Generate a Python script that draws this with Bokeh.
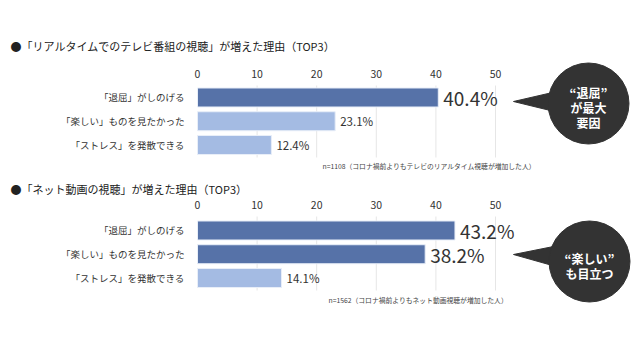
from bokeh.plotting import figure
from bokeh.models import Range1d, FixedTicker, ColumnDataSource, LinearAxis
from bokeh.core.properties import value
from bokeh.embed import file_html
from bokeh.resources import INLINE

# ---- data ----
categories = ["「退屈」がしのげる", "「楽しい」ものを見たかった", "「ストレス」を発散できる"]
tv_values = [40.4, 23.1, 12.4]
net_values = [43.2, 38.2, 14.1]
tick_values = [0, 10, 20, 30, 40, 50]
tv_title = "●「リアルタイムでのテレビ番組の視聴」が増えた理由（TOP3）"
net_title = "●「ネット動画の視聴」が増えた理由（TOP3）"
tv_note = "n=1108（コロナ禍前よりもテレビのリアルタイム視聴が増加した人）"
net_note = "n=1562（コロナ禍前よりもネット動画視聴が増加した人）"
tv_bubble = ["“退屈”", "が最大", "要因"]
net_bubble = ["“楽しい”", "も目立つ"]
tv_highlight = [True, False, False]
net_highlight = [True, True, False]

FONT = "Noto Sans CJK JP"
DARK = "#5672a8"
LIGHT = "#a4bbe3"
TXT = "#333333"
BUBBLE = "#333333"

W, H = 632, 352
X0_PX, X_PER_UNIT = 197.0, 5.96      # pixel of value 0, pixels per percent
Y_PX_UNIT, Y_OFF = 4.75, 0.42        # y layout unit (rows of 5 units per bar)


def xv(px):
    return (px - X0_PX) / X_PER_UNIT


def yv(px):
    return px / Y_PX_UNIT - Y_OFF


p = figure(width=W, height=H, output_backend="svg", toolbar_location=None,
           x_range=Range1d(xv(0), xv(W)), y_range=Range1d(yv(H), yv(0)),
           x_axis_type=None, y_axis_type=None,
           min_border_left=0, min_border_right=0, min_border_top=0, min_border_bottom=0)
p.outline_line_color = None
p.xgrid.visible = False
p.ygrid.visible = False


def make_chart(title, values, highlight, note, bubble, base_row,
               title_px, axis_px, grid_end_px, note_px, note_x_px,
               bubble_c, bubble_text_px, tail):
    rows = [base_row + 5 * i for i in range(len(values))]

    # title
    p.text(x=[xv(10)], y=[yv(title_px)], text=[title], text_font=value(FONT),
           text_font_size="11px", text_color="#222222", text_align="left",
           text_baseline="middle")

    # x axis at a fixed location
    xa = LinearAxis(fixed_location=yv(axis_px), ticker=FixedTicker(ticks=tick_values))
    xa.axis_line_color = None
    xa.major_tick_line_color = None
    xa.minor_tick_line_color = None
    xa.major_label_text_font = FONT
    xa.major_label_text_font_size = "10.5px"
    xa.major_label_text_color = TXT
    xa.major_label_standoff = 2
    p.add_layout(xa, "above")

    # y axis with category labels
    ya = LinearAxis(fixed_location=0, ticker=FixedTicker(ticks=rows))
    ya.major_label_overrides = {r: c for r, c in zip(rows, categories)}
    ya.axis_line_color = None
    ya.major_tick_line_color = None
    ya.minor_tick_line_color = None
    ya.major_label_text_font = FONT
    ya.major_label_text_font_size = "9.5px"
    ya.major_label_text_color = TXT
    ya.major_label_standoff = 7
    p.add_layout(ya, "left")

    # grid lines
    grid_x = tick_values[1:]
    p.segment(x0=grid_x, x1=grid_x, y0=[yv(axis_px)] * len(grid_x),
              y1=[yv(grid_end_px)] * len(grid_x), line_color="#e6e6e6", line_width=1)

    colors = [DARK if h else LIGHT for h in highlight]
    src = ColumnDataSource(dict(y=rows, v=values, c=colors,
                                lab=[f"{v:.1f}%" for v in values],
                                fs=["19px" if h else "11.5px" for h in highlight]))
    p.hbar(y="y", right="v", left=0, height=19 / Y_PX_UNIT, fill_color="c",
           line_color="#e8eef8", line_width=1, source=src)
    p.text(x="v", y="y", text="lab", text_font=value(FONT), text_font_size="fs",
           text_color=TXT, text_align="left", text_baseline="middle", x_offset=5,
           source=src)

    # note
    p.text(x=[xv(note_x_px)], y=[yv(note_px)], text=[note], text_font=value(FONT),
           text_font_size="6.8px", text_color="#444444", text_align="left",
           text_baseline="middle")

    # speech bubble
    bx, by = bubble_c
    p.patch(x=[xv(t[0]) for t in tail], y=[yv(t[1]) for t in tail],
            fill_color=BUBBLE, line_color=BUBBLE)
    p.circle(x=[xv(bx)], y=[yv(by)], radius=40.5, radius_units="screen",
             fill_color=BUBBLE, line_color=BUBBLE)
    n = len(bubble)
    ys = [yv(bubble_text_px + (i - (n - 1) / 2) * 15) for i in range(n)]
    p.text(x=[xv(bx)] * n, y=ys, text=bubble, text_font=value(FONT),
           text_font_size="12px", text_font_style="bold", text_color="white",
           text_align="center", text_baseline="middle")


make_chart(tv_title, tv_values, tv_highlight, tv_note, tv_bubble, base_row=20,
           title_px=45, axis_px=85, grid_end_px=157, note_px=165, note_x_px=322,
           bubble_c=(588, 103), bubble_text_px=107,
           tail=[(513, 101), (552, 92), (558, 112)])
make_chart(net_title, net_values, net_highlight, net_note, net_bubble, base_row=48,
           title_px=188, axis_px=216, grid_end_px=290, note_px=299, note_x_px=328,
           bubble_c=(589, 261), bubble_text_px=265,
           tail=[(513, 254), (553, 246), (559, 267)])

open("out.html", "w").write(file_html(p, INLINE))
